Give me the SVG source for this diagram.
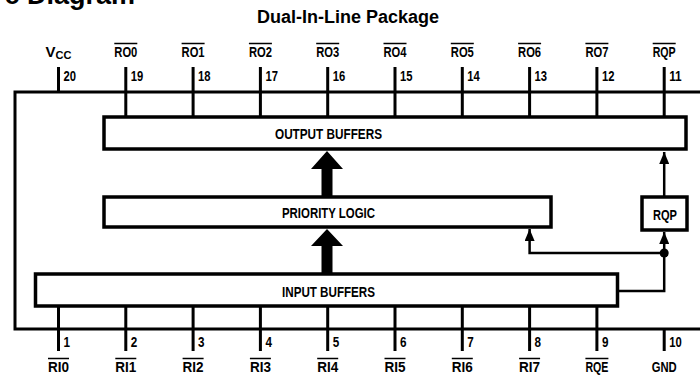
<svg xmlns="http://www.w3.org/2000/svg" width="700" height="381" viewBox="0 0 700 381">
<style>
.t{font-family:"Liberation Sans",Arial,sans-serif;font-weight:bold;fill:#000}
.lbl{font-size:15px;text-anchor:middle}
.num{font-size:15px;text-anchor:start}
.box{fill:#fff;stroke:#000;stroke-width:3.5}
.pin{stroke:#000;stroke-width:3;fill:none}
.ob{stroke:#000;stroke-width:1.6}
.conn{stroke:#000;stroke-width:2.5;fill:none}
</style>
<defs>
<marker id="ah" viewBox="0 0 12 10" markerWidth="12" markerHeight="10" refX="12" refY="5" orient="auto" markerUnits="userSpaceOnUse">
<path d="M0,0 L12,5 L0,10 z" fill="#000"/>
</marker>
</defs>
<rect width="700" height="381" fill="#fff"/>
<text class="t" x="135" y="4" font-size="27" text-anchor="end">c Diagram</text>
<text class="t" x="348" y="23" font-size="18" text-anchor="middle">Dual-In-Line Package</text>

<g id="package">
<path d="M703,92 H15 V329 H703" class="pin" stroke-width="4"/>
</g>

<g id="pins-top">
<path class="pin" d="M58.5,67 V92 M125.8,67 V117 M193.1,67 V117 M260.4,67 V117 M327.7,67 V117 M395,67 V117 M462.3,67 V117 M529.6,67 V117 M596.9,67 V117 M664.2,67 V117"/>
<text class="t lbl" x="58.5" y="57">V<tspan font-size="11" dy="2">CC</tspan></text>
<g class="t lbl">
<text x="125.8" y="57" textLength="23" lengthAdjust="spacingAndGlyphs">RO0</text>
<text x="193.1" y="57" textLength="23" lengthAdjust="spacingAndGlyphs">RO1</text>
<text x="260.4" y="57" textLength="23" lengthAdjust="spacingAndGlyphs">RO2</text>
<text x="327.7" y="57" textLength="23" lengthAdjust="spacingAndGlyphs">RO3</text>
<text x="395" y="57" textLength="23" lengthAdjust="spacingAndGlyphs">RO4</text>
<text x="462.3" y="57" textLength="23" lengthAdjust="spacingAndGlyphs">RO5</text>
<text x="529.6" y="57" textLength="23" lengthAdjust="spacingAndGlyphs">RO6</text>
<text x="596.9" y="57" textLength="23" lengthAdjust="spacingAndGlyphs">RO7</text>
<text x="664.2" y="57" textLength="23" lengthAdjust="spacingAndGlyphs">RQP</text>
</g>
<path class="ob" d="M114.3,43.5 h23 M181.6,43.5 h23 M248.9,43.5 h23 M316.2,43.5 h23 M383.5,43.5 h23 M450.8,43.5 h23 M518.1,43.5 h23 M585.4,43.5 h23 M652.7,43.5 h23"/>
<g class="t num">
<text x="63.5" y="81" textLength="12.5" lengthAdjust="spacingAndGlyphs">20</text>
<text x="130.8" y="81" textLength="12.5" lengthAdjust="spacingAndGlyphs">19</text>
<text x="198.1" y="81" textLength="12.5" lengthAdjust="spacingAndGlyphs">18</text>
<text x="265.4" y="81" textLength="12.5" lengthAdjust="spacingAndGlyphs">17</text>
<text x="332.7" y="81" textLength="12.5" lengthAdjust="spacingAndGlyphs">16</text>
<text x="400" y="81" textLength="12.5" lengthAdjust="spacingAndGlyphs">15</text>
<text x="467.3" y="81" textLength="12.5" lengthAdjust="spacingAndGlyphs">14</text>
<text x="534.6" y="81" textLength="12.5" lengthAdjust="spacingAndGlyphs">13</text>
<text x="601.9" y="81" textLength="12.5" lengthAdjust="spacingAndGlyphs">12</text>
<text x="669.2" y="81" textLength="12.5" lengthAdjust="spacingAndGlyphs">11</text>
</g>
</g>

<g id="pins-bottom">
<path class="pin" d="M58.5,306 V351 M125.8,306 V351 M193.1,306 V351 M260.4,306 V351 M327.7,306 V351 M395,306 V351 M462.3,306 V351 M529.6,306 V351 M596.9,306 V351 M664.2,329 V351"/>
<g class="t lbl">
<text x="58.5" y="372" textLength="21" lengthAdjust="spacingAndGlyphs">RI0</text>
<text x="125.8" y="372" textLength="21" lengthAdjust="spacingAndGlyphs">RI1</text>
<text x="193.1" y="372" textLength="21" lengthAdjust="spacingAndGlyphs">RI2</text>
<text x="260.4" y="372" textLength="21" lengthAdjust="spacingAndGlyphs">RI3</text>
<text x="327.7" y="372" textLength="21" lengthAdjust="spacingAndGlyphs">RI4</text>
<text x="395" y="372" textLength="21" lengthAdjust="spacingAndGlyphs">RI5</text>
<text x="462.3" y="372" textLength="21" lengthAdjust="spacingAndGlyphs">RI6</text>
<text x="529.6" y="372" textLength="21" lengthAdjust="spacingAndGlyphs">RI7</text>
<text x="596.9" y="372" textLength="23" lengthAdjust="spacingAndGlyphs">RQE</text>
<text x="664.2" y="372" textLength="25" lengthAdjust="spacingAndGlyphs">GND</text>
</g>
<path class="ob" d="M48,358.5 h21 M115.3,358.5 h21 M182.6,358.5 h21 M249.9,358.5 h21 M317.2,358.5 h21 M384.5,358.5 h21 M451.8,358.5 h21 M519.1,358.5 h21 M585.4,358.5 h23"/>
<g class="t num">
<text x="63.5" y="347" textLength="6.5" lengthAdjust="spacingAndGlyphs">1</text>
<text x="130.8" y="347" textLength="6.5" lengthAdjust="spacingAndGlyphs">2</text>
<text x="198.1" y="347" textLength="6.5" lengthAdjust="spacingAndGlyphs">3</text>
<text x="265.4" y="347" textLength="6.5" lengthAdjust="spacingAndGlyphs">4</text>
<text x="332.7" y="347" textLength="6.5" lengthAdjust="spacingAndGlyphs">5</text>
<text x="400" y="347" textLength="6.5" lengthAdjust="spacingAndGlyphs">6</text>
<text x="467.3" y="347" textLength="6.5" lengthAdjust="spacingAndGlyphs">7</text>
<text x="534.6" y="347" textLength="6.5" lengthAdjust="spacingAndGlyphs">8</text>
<text x="601.9" y="347" textLength="6.5" lengthAdjust="spacingAndGlyphs">9</text>
<text x="669.2" y="347" textLength="12.5" lengthAdjust="spacingAndGlyphs">10</text>
</g>
</g>

<g id="output-buffers">
<rect class="box" x="104" y="117" width="582" height="32"/>
<text class="t lbl" x="328.5" y="138.5" textLength="107" lengthAdjust="spacingAndGlyphs">OUTPUT BUFFERS</text>
</g>
<g id="priority-logic">
<rect class="box" x="104" y="197" width="447" height="30"/>
<text class="t lbl" x="328.5" y="217.5" textLength="93" lengthAdjust="spacingAndGlyphs">PRIORITY LOGIC</text>
</g>
<g id="input-buffers">
<rect class="box" x="35.5" y="274" width="582" height="32"/>
<text class="t lbl" x="328.5" y="296.5" textLength="93" lengthAdjust="spacingAndGlyphs">INPUT BUFFERS</text>
</g>
<g id="rqp">
<rect class="box" x="642" y="197" width="45" height="33"/>
<text class="t lbl" x="665" y="219.5" textLength="24" lengthAdjust="spacingAndGlyphs">RQP</text>
</g>

<g id="connectors">
<path d="M327,151 L343,169 L332.5,169 L332.5,197 L321.5,197 L321.5,169 L311,169 Z" fill="#000"/>
<path d="M327,229 L343,246 L332.5,246 L332.5,274 L321.5,274 L321.5,246 L311,246 Z" fill="#000"/>
<path class="conn" d="M664.2,197 V152" marker-end="url(#ah)"/>
<path class="conn" d="M664.2,253 V232" marker-end="url(#ah)"/>
<path class="conn" d="M664.2,253 H529.6 V229" marker-end="url(#ah)"/>
<path class="conn" d="M618,291 H664.2 V253"/>
<circle cx="664.2" cy="253" r="4.5" fill="#000"/>
</g>
</svg>
